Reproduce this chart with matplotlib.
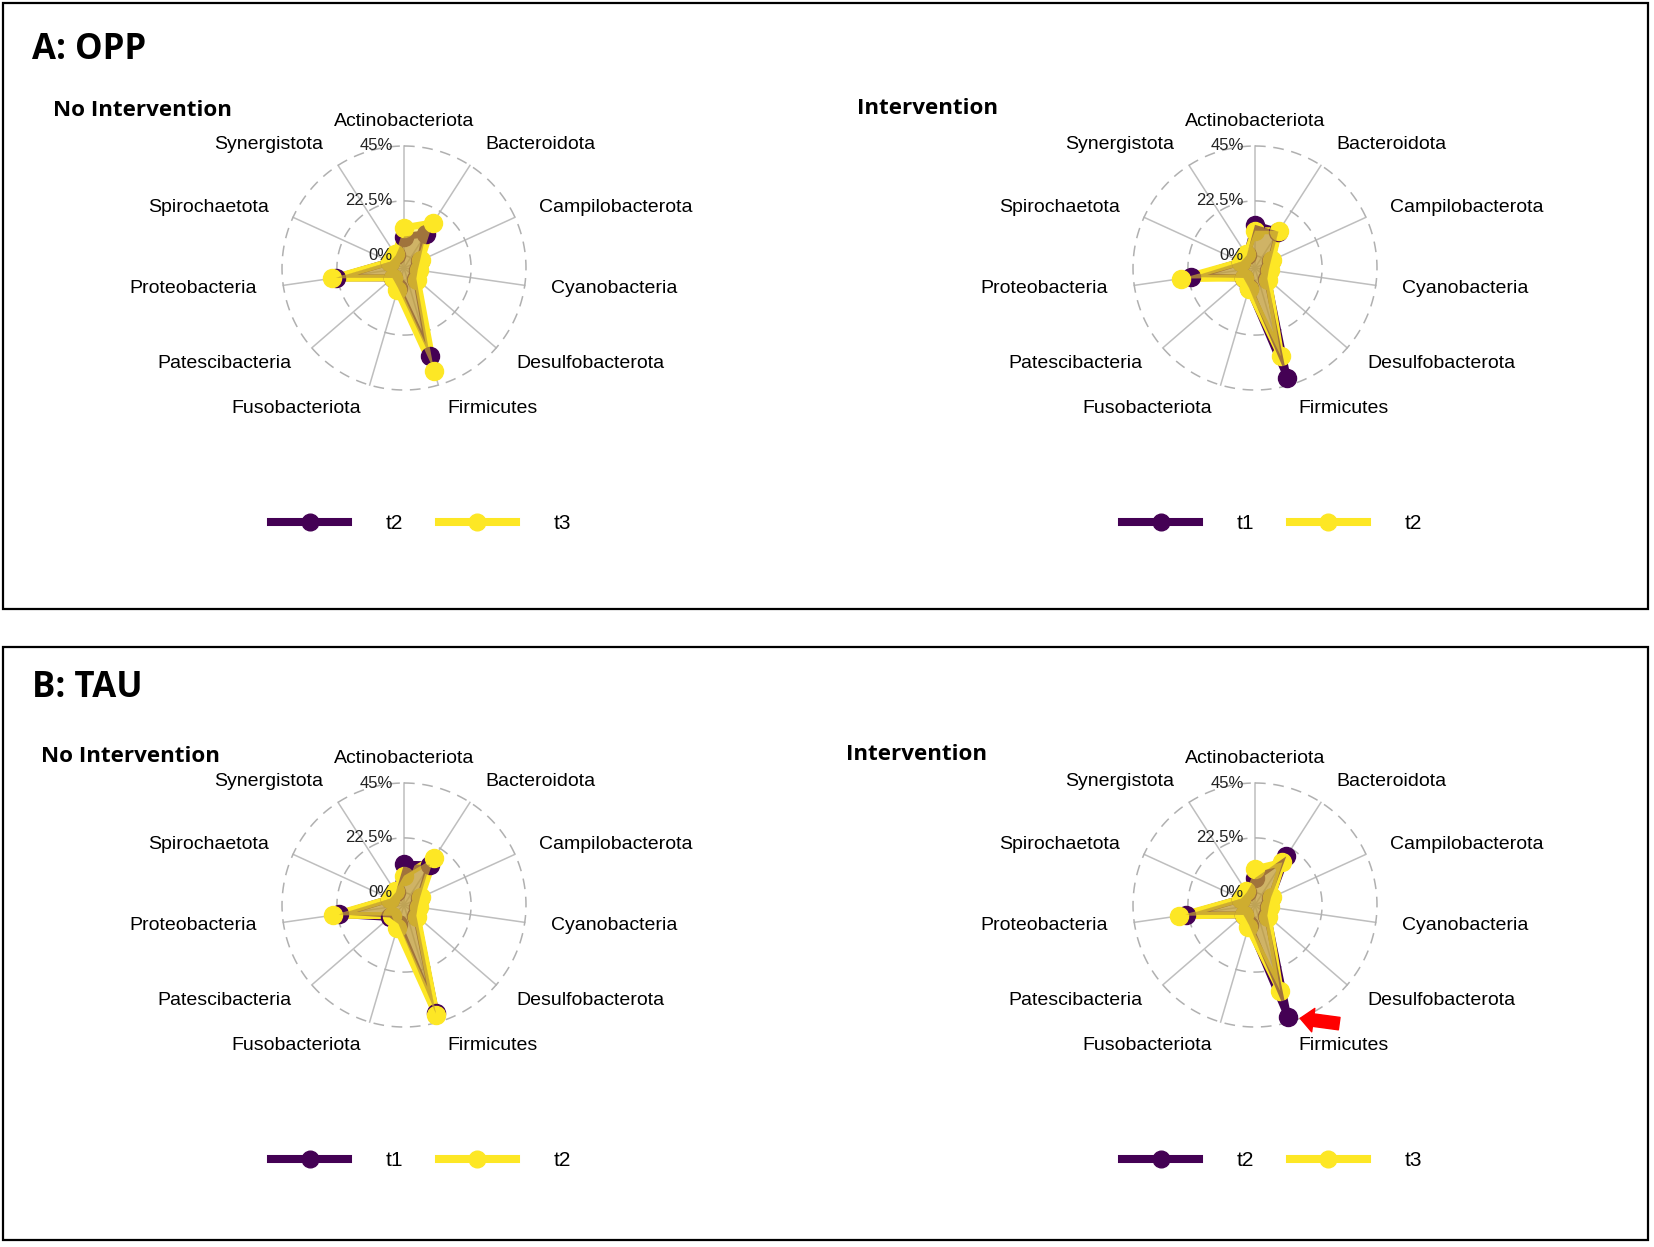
import numpy as np
import matplotlib.pyplot as plt
from matplotlib.lines import Line2D
from matplotlib.patches import Rectangle

W, H, DPI = 1654, 1247, 100

# ---------- data (relative abundance, %) ----------
cats = ["Actinobacteriota", "Bacteroidota", "Campilobacterota", "Cyanobacteria",
        "Desulfobacterota", "Firmicutes", "Fusobacteriota", "Patescibacteria",
        "Proteobacteria", "Spirochaetota", "Synergistota"]
grid_vals = [0, 22.5, 45]
grid_labels = ["0%", "22.5%", "45%"]

# A: OPP
opp_noint_labels = ["t2", "t3"]
opp_noint_t2 = [7.9, 11.7, 2.2, 0.7, 1.7, 32.7, 3.6, 1.2, 23.2, 1.2, 1.2]
opp_noint_t3 = [11.5, 17.0, 2.6, 1.2, 2.2, 38.9, 4.6, 1.2, 25.0, 1.2, 1.7]
opp_int_labels = ["t1", "t2"]
opp_int_t1 = [12.7, 12.7, 2.2, 0.7, 1.7, 41.8, 3.6, 1.2, 21.3, 1.2, 1.2]
opp_int_t2 = [10.3, 13.1, 2.6, 1.2, 2.2, 32.7, 4.1, 1.2, 25.6, 1.2, 1.7]

# B: TAU
tau_noint_labels = ["t1", "t2"]
tau_noint_t1 = [11.7, 14.6, 2.2, 0.7, 1.7, 41.3, 3.1, 2.8, 22.0, 1.2, 1.2]
tau_noint_t2 = [7.0, 17.9, 2.6, 1.2, 2.2, 42.1, 5.0, 1.7, 24.5, 1.2, 1.7]
tau_int_labels = ["t2", "t3"]
tau_int_t2 = [6.0, 18.7, 2.2, 0.7, 1.7, 42.7, 3.6, 1.2, 23.7, 1.2, 1.2]
tau_int_t3 = [9.8, 15.8, 2.6, 1.2, 2.2, 31.8, 4.6, 1.2, 26.4, 1.2, 1.7]

DARK, YEL = "#440154", "#FDE725"
GRID_C = "#BEBEBE"
R_MIN, R_MAX = -5, 45      # centre sits below 0 like ggradar
R_PX = 122                 # radius of the 45% circle in pixels
LAB_FONT = "Liberation Sans"
TITLE_FONT = "Open Sans"

fig = plt.figure(figsize=(W / DPI, H / DPI), dpi=DPI)

# panel boxes
for y0, y1 in [(3, 609), (647, 1240)]:
    fig.add_artist(Rectangle((3 / W, 1 - y1 / H), (1648 - 3) / W, (y1 - y0) / H,
                             transform=fig.transFigure, fill=False, lw=1.6, ec="black"))


def radar(cx, cy, s1, s2, leg_labels, title, tx, ty, arrow=False):
    ax = fig.add_axes([(cx - R_PX) / W, 1 - (cy + R_PX) / H, 2 * R_PX / W, 2 * R_PX / H],
                      projection="polar")
    ax.set_theta_offset(np.pi / 2)
    ax.set_theta_direction(-1)
    ax.set_ylim(R_MIN, R_MAX)
    ax.axis("off")

    n = len(cats)
    theta = np.arange(n) * 2 * np.pi / n
    tc = np.append(theta, theta[0])

    # grid
    for t in theta:
        ax.plot([t, t], [R_MIN, R_MAX], color=GRID_C, lw=1.1, zorder=1, clip_on=False)
    tt = np.linspace(0, 2 * np.pi, 361)
    for v in grid_vals:
        ax.plot(tt, np.full_like(tt, v), color="#B0B0B0", lw=1.1, ls=(0, (7, 5)),
                zorder=1, clip_on=False)
    for v, lab in zip(grid_vals, grid_labels):
        ax.annotate(lab, xy=(0, v), xytext=(-8, 0), textcoords="offset points",
                    ha="right", va="center", fontsize=12, family=LAB_FONT,
                    color="#222222", annotation_clip=False, zorder=6)

    # category labels
    lab_r = R_MIN + 1.2 * (R_MAX - R_MIN)
    for t, c in zip(theta, cats):
        sx = np.sin(t)
        if abs(sx) < 0.01:
            ha, dx = "center", 0
        elif sx > 0:
            ha, dx = "left", 1.5
        else:
            ha, dx = "right", -1.5
        ax.annotate(c, xy=(t, lab_r), xytext=(dx, 0), textcoords="offset points",
                    ha=ha, va="center", fontsize=14, family=LAB_FONT,
                    annotation_clip=False)

    # series: paths, then points, then translucent fills (ggradar order)
    series = [(s1, DARK), (s2, YEL)]
    for vals, col in series:
        vc = np.append(vals, vals[0])
        ax.plot(tc, vc, color=col, lw=5, solid_joinstyle="round", zorder=3, clip_on=False)
    for vals, col in series:
        ax.plot(theta, vals, "o", color=col, ms=13, zorder=4, clip_on=False)
    for vals, col in series:
        vc = np.append(vals, vals[0])
        ax.fill(tc, vc, color=col, alpha=0.5, lw=0, zorder=5)

    if arrow:
        i = cats.index("Firmicutes")
        ax.annotate("", xy=(theta[i], s1[i]), xytext=(37, -5), textcoords="offset points",
                    arrowprops=dict(arrowstyle="simple,head_length=0.95,head_width=1.7,tail_width=0.9",
                                    color="#FF0000", shrinkA=0, shrinkB=9, mutation_scale=10),
                    annotation_clip=False, zorder=7)

    handles = [Line2D([], [], color=DARK, lw=5.8, marker="o", ms=12),
               Line2D([], [], color=YEL, lw=5.8, marker="o", ms=12)]
    fig.legend(handles, leg_labels, loc="center", ncol=2, frameon=False,
               bbox_to_anchor=((cx + 17) / W, 1 - (cy + 255.5) / H),
               bbox_transform=fig.transFigure, handlelength=3.7, handletextpad=1.8,
               columnspacing=1.7, prop={"family": LAB_FONT, "size": 15})

    fig.text(tx / W, 1 - ty / H, title, fontsize=16.1, weight="bold",
             family=TITLE_FONT, ha="left", va="center")


fig.text(32 / W, 1 - 50 / H, "A: OPP", fontsize=25, weight="bold",
         family=TITLE_FONT, ha="left", va="center")
fig.text(32 / W, 1 - 688 / H, "B: TAU", fontsize=25, weight="bold",
         family=TITLE_FONT, ha="left", va="center")

radar(404, 268, opp_noint_t2, opp_noint_t3, opp_noint_labels, "No Intervention", 53, 111)
radar(1255, 268, opp_int_t1, opp_int_t2, opp_int_labels, "Intervention", 857, 108)
radar(404, 905, tau_noint_t1, tau_noint_t2, tau_noint_labels, "No Intervention", 41, 757)
radar(1255, 905, tau_int_t2, tau_int_t3, tau_int_labels, "Intervention", 846, 754, arrow=True)

fig.savefig("out.png", dpi=DPI)
